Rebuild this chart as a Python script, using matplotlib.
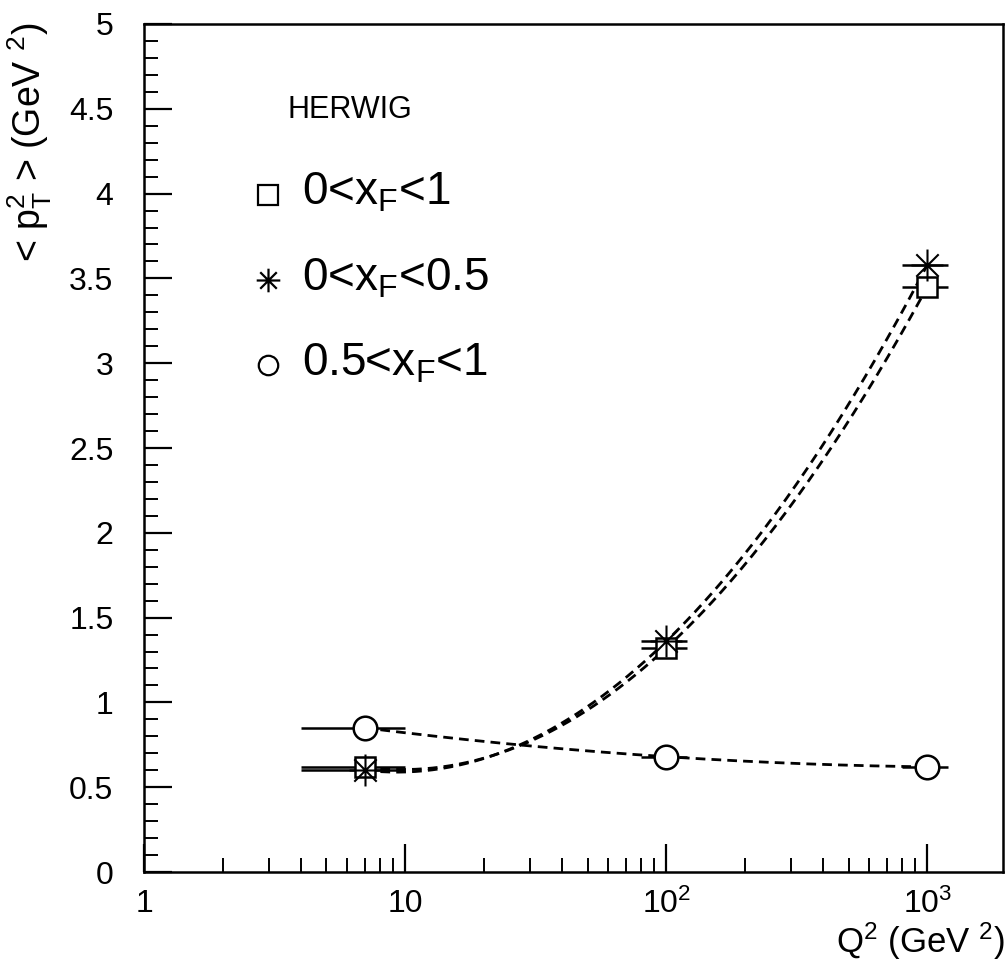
import matplotlib
matplotlib.use("Agg")
import matplotlib.pyplot as plt
import numpy as np
from matplotlib.path import Path
from matplotlib.ticker import FixedLocator, NullFormatter

plt.rcParams['font.family'] = ['Liberation Sans', 'DejaVu Sans']
plt.rcParams['mathtext.fontset'] = 'custom'
plt.rcParams['mathtext.rm'] = 'Liberation Sans'
plt.rcParams['mathtext.it'] = 'Liberation Sans'

# data
q2 = [7, 100, 1000]
q2_lo = [4, 80, 800]
q2_hi = [10, 120, 1200]
pt2_all = [0.62, 1.32, 3.45]     # 0<xF<1
pt2_low = [0.60, 1.36, 3.58]     # 0<xF<0.5
pt2_high = [0.85, 0.68, 0.62]    # 0.5<xF<1

labels = [r'0<x$_\mathrm{F}$<1', r'0<x$_\mathrm{F}$<0.5', r'0.5<x$_\mathrm{F}$<1']

# 8-armed asterisk marker
star = Path([(0, -1), (0, 1), (-1, 0), (1, 0), (-0.7, -0.7), (0.7, 0.7), (-0.7, 0.7), (0.7, -0.7)],
            [Path.MOVETO, Path.LINETO] * 4)

fig = plt.figure(figsize=(10.08, 9.64), dpi=100)
ax = fig.add_axes([144/1008, 1-872/964, 859/1008, 848/964])
ax.set_xscale('log')
ax.set_xlim(1, 1950)
ax.set_ylim(0, 5)

x = np.array(q2, dtype=float)
xerr = [x - np.array(q2_lo), np.array(q2_hi) - x]

# smooth dashed curves (quadratic in log Q2 through the points)
u = np.log10(x)
uu = np.linspace(u[0], u[-1], 200)
for ys in (pt2_all, pt2_low, pt2_high):
    c = np.polyfit(u, ys, 2)
    ax.plot(10**uu, np.polyval(c, uu), ls=(0, (3.5, 2.2)), color='black', lw=2.0, zorder=2)

ax.errorbar(x, pt2_all, xerr=xerr, fmt='none', ecolor='black', elinewidth=1.8, zorder=3)
ax.errorbar(x, pt2_low, xerr=xerr, fmt='none', ecolor='black', elinewidth=1.8, zorder=3)
ax.errorbar(x, pt2_high, xerr=xerr, fmt='none', ecolor='black', elinewidth=1.8, zorder=3)

ax.plot(x, pt2_all, 's', ms=15, mfc='white', mec='black', mew=1.8, zorder=4)
ax.plot(x, pt2_low, marker=star, ls='none', ms=23, mec='black', mew=1.5, zorder=5)
ax.plot(x, pt2_high, 'o', ms=17, mfc='white', mec='black', mew=1.8, zorder=4)

# legend drawn by hand in axes coordinates
ax.text(0.167, 0.898, 'HERWIG', transform=ax.transAxes, fontsize=22, va='center')
leg_mk = [dict(marker='s', ms=14, mfc='white'), dict(marker=star, ms=17), dict(marker='o', ms=14, mfc='white')]
mk_y = [0.798, 0.698, 0.598]
txt_y = [0.787, 0.686, 0.586]
for my, ty, lab, mk in zip(mk_y, txt_y, labels, leg_mk):
    ax.plot([0.144], [my], transform=ax.transAxes, ls='none', mec='black', mew=1.6, **mk)
    ax.text(0.184, ty, lab, transform=ax.transAxes, fontsize=33, va='baseline')

# ticks
ax.xaxis.set_major_locator(FixedLocator([1, 10, 100, 1000]))
ax.set_xticklabels(['1', '10', r'10$^2$', r'10$^3$'])
minors = [m * 10**d for d in range(0, 4) for m in range(2, 10) if m * 10**d < 1950]
ax.xaxis.set_minor_locator(FixedLocator(minors))
ax.xaxis.set_minor_formatter(NullFormatter())
ax.yaxis.set_major_locator(FixedLocator(np.arange(0, 5.01, 0.5)))
ax.set_yticklabels(['0', '0.5', '1', '1.5', '2', '2.5', '3', '3.5', '4', '4.5', '5'])
ax.yaxis.set_minor_locator(FixedLocator(np.arange(0, 5.01, 0.1)))
ax.tick_params(which='major', direction='in', length=20, width=1.6, labelsize=23)
ax.tick_params(which='minor', direction='in', length=10, width=1.4)
ax.tick_params(axis='y', which='major', pad=22)
ax.tick_params(axis='x', which='major', pad=12)
for sp in ax.spines.values():
    sp.set_linewidth(1.8)

fig.text(30/1008, 1-22/964, r'< p$_\mathrm{T}^2$ > (GeV $^2$)', rotation=90, ha='center', va='top', fontsize=27)
fig.text(1005/1008, 1-962/964, r'Q$^2$ (GeV $^2$)', ha='right', va='bottom', fontsize=25)

fig.savefig('out.png', dpi=100)
